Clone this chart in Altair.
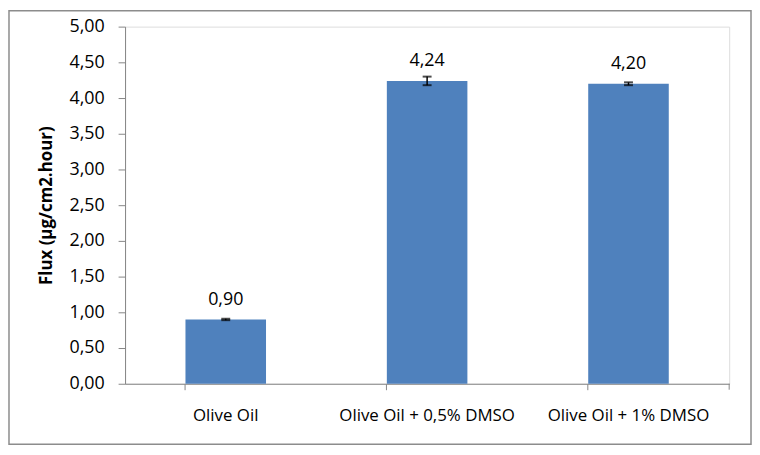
import altair as alt
import pandas as pd

categories = ["Olive Oil", "Olive Oil + 0,5% DMSO", "Olive Oil + 1% DMSO"]
values = [0.90, 4.24, 4.20]
errors = [0.01, 0.06, 0.02]
y_ticks = [0, 0.5, 1.0, 1.5, 2.0, 2.5, 3.0, 3.5, 4.0, 4.5, 5.0]

df = pd.DataFrame({"cat": categories, "val": values, "err": errors})

FONT = "Open Sans"
FS = 18
AX = "#868686"
TITLE = "Flux (µg/cm2.hour)"

base = alt.Chart(df).transform_calculate(
    lo="datum.val - datum.err",
    hi="datum.val + datum.err",
    lbl="replace(format(datum.val, '.2f'), '.', ',')",
)

xaxis = alt.Axis(title=None, labelAngle=0, bandPosition=0,
                 domainColor=AX, tickColor=AX, tickSize=6,
                 labelFont=FONT, labelFontSize=17, labelColor="black",
                 labelPadding=18, grid=False, labelOverlap=False, labelLimit=0)
xscale = alt.Scale(paddingInner=0.6, paddingOuter=0.3)
yscale = alt.Scale(domain=[0, 5], nice=False)
yaxis = alt.Axis(title=TITLE, values=y_ticks,
                 labelOverlap=False,
                 labelExpr="replace(format(datum.value, '.2f'), '.', ',')",
                 domainColor=AX, tickColor=AX, tickSize=7, grid=False,
                 labelFont=FONT, labelFontSize=FS, labelColor="black",
                 labelPadding=14,
                 titleFont=FONT, titleFontSize=17, titleFontWeight="bold",
                 titleColor="black", titlePadding=14)


def X():
    return alt.X("cat:N", sort=categories, scale=xscale, axis=xaxis)


def Y(f):
    return alt.Y(f, scale=yscale, axis=yaxis, title=TITLE)


bars = base.mark_bar(color="#4F81BD").encode(x=X(), y=Y("val:Q"))

rules = base.mark_rule(color="black", strokeWidth=1.5).encode(
    x=X(), y=Y("lo:Q"), y2="hi:Q")
cap_lo = base.mark_tick(color="black", thickness=2, size=9, orient="horizontal").encode(
    x=X(), y=Y("lo:Q"))
cap_hi = base.mark_tick(color="black", thickness=2, size=9, orient="horizontal").encode(
    x=X(), y=Y("hi:Q"))

labels = base.mark_text(baseline="bottom", dy=-11, font=FONT, fontSize=FS,
                        color="black").encode(
    x=X(), y=Y("val:Q"), text="lbl:N")

end_tick = alt.Chart(df.head(1)).mark_rule(color=AX).encode(
    x=alt.value(609), y=alt.value(360), y2=alt.value(366))

border = alt.Chart(df.head(1)).mark_rect(fill=None, stroke="#8c8c8c",
                                         strokeWidth=1.5).encode(
    x=alt.value(-117), x2=alt.value(631), y=alt.value(-16), y2=alt.value(421))

chart = alt.layer(bars, rules, cap_lo, cap_hi, labels, end_tick, border).properties(
    width=609, height=360,
    autosize=alt.AutoSizeParams(type="none"),
    padding={"left": 118, "top": 17, "right": 23, "bottom": 62},
).configure_view(stroke=None).configure(background="white")

chart.save("out.html", embed_options={"renderer": "svg", "actions": False})
